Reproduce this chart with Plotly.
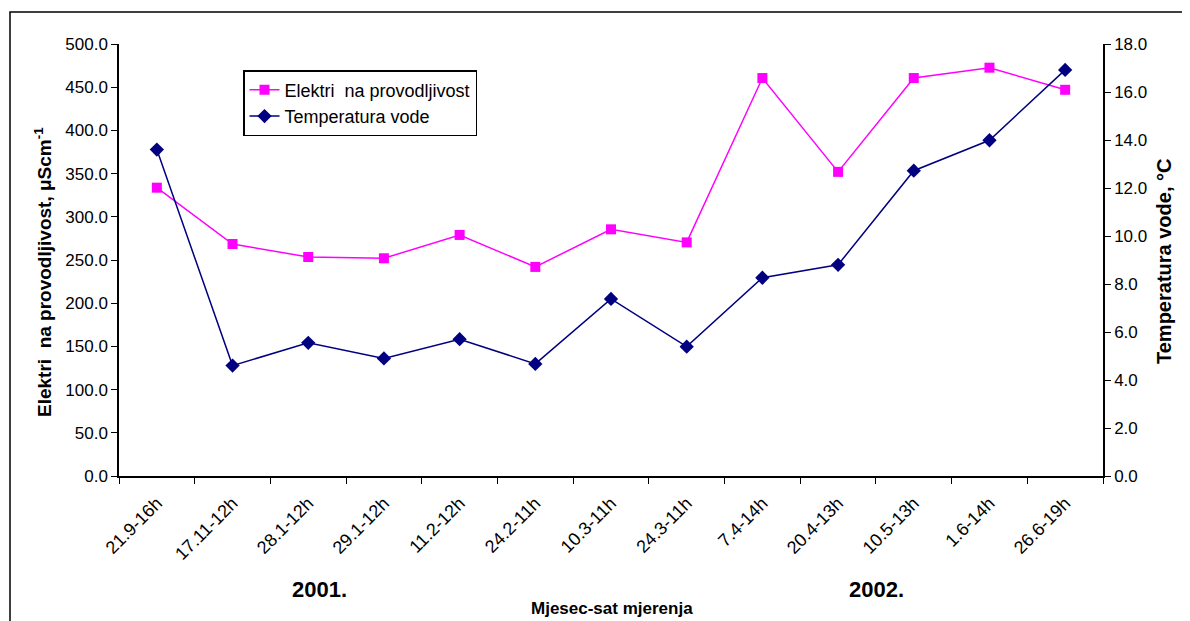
import plotly.graph_objects as go

categories = ["21.9-16h", "17.11-12h", "28.1-12h", "29.1-12h", "11.2-12h", "24.2-11h",
              "10.3-11h", "24.3-11h", "7.4-14h", "20.4-13h", "10.5-13h", "1.6-14h", "26.6-19h"]
conductivity = [333.7, 268.5, 253.5, 252.0, 279.0, 242.0, 285.5, 270.4, 460.6, 352.0, 460.6, 472.6, 447.0]
temperature = [13.6, 4.6, 5.55, 4.9, 5.7, 4.67, 7.38, 5.39, 8.26, 8.8, 12.72, 13.99, 16.92]

FONT = "Arial, Liberation Sans, sans-serif"

# page is drawn with an 8px body margin; reference pixel -> paper coords
L, R, T, B = 119, 1103, 44, 476


def px(x):
    return (x - L) / (R - L)


def py(y):
    return (B - y) / (B - T)


fig = go.Figure()
fig.add_trace(go.Scatter(
    x=categories, y=conductivity, name="Elektri  na provodljivost",
    mode="lines+markers", line=dict(color="#ff00ff", width=1.5),
    marker=dict(symbol="square", size=10, color="#ff00ff"),
))
fig.add_trace(go.Scatter(
    x=categories, y=temperature, name="Temperatura vode", yaxis="y2",
    mode="lines+markers", line=dict(color="#000080", width=1.5),
    marker=dict(symbol="diamond", size=11, color="#000080"),
))

axis_common = dict(showgrid=False, zeroline=False, showline=True, linecolor="black",
                   linewidth=1.5, ticks="outside", ticklen=6, tickcolor="black")

fig.update_layout(
    width=1190, height=621,
    margin=dict(l=L - 8, r=1190 - (R - 8), t=T - 8, b=621 - (B - 8), autoexpand=False),
    paper_bgcolor="white", plot_bgcolor="white",
    font=dict(family=FONT, color="black"),
    xaxis=dict(type="category", tickson="boundaries", tickangle=-45,
               range=[-0.5, 12.5], ticklabelstandoff=8,
               tickfont=dict(family=FONT, size=18, color="black"), **axis_common),
    yaxis=dict(range=[0, 500], dtick=50, tickformat=".1f",
               tickfont=dict(family=FONT, size=17, color="black"), **axis_common),
    yaxis2=dict(range=[0, 18], dtick=2, tickformat=".1f", overlaying="y", side="right",
                tickfont=dict(family=FONT, size=17, color="black"), **axis_common),
    legend=dict(x=px(243), y=py(70), xanchor="left", yanchor="top",
                bgcolor="white", bordercolor="black", borderwidth=1.5,
                font=dict(family=FONT, size=18, color="black"),
                tracegroupgap=0),
    showlegend=True,
)

fig.add_annotation(xref="paper", yref="paper", x=px(29), y=py(272), textangle=-90,
                   text="<b>Elektri  na provodljivost, μScm<sup>-1</sup></b>",
                   showarrow=False, font=dict(family=FONT, size=19))
fig.add_annotation(xref="paper", yref="paper", x=px(1177), y=py(262), textangle=-90,
                   text="<b>Temperatura vode, °C</b>",
                   showarrow=False, font=dict(family=FONT, size=20))
fig.add_annotation(xref="paper", yref="paper", x=px(612), y=py(620),
                   text="<b>Mjesec-sat mjerenja</b>", showarrow=False,
                   font=dict(family=FONT, size=17))
fig.add_annotation(xref="paper", yref="paper", x=px(290), y=py(604),
                   text="<b>2001.</b>", showarrow=False, font=dict(family=FONT, size=22))
fig.add_annotation(xref="paper", yref="paper", x=px(906), y=py(604),
                   text="<b>2002.</b>", showarrow=False, font=dict(family=FONT, size=22))

fig.add_shape(type="rect", xref="paper", yref="paper",
              x0=px(10), x1=px(1186), y0=py(640), y1=py(12),
              line=dict(color="black", width=1.5), fillcolor="rgba(0,0,0,0)")

fig.write_html("out.html")
